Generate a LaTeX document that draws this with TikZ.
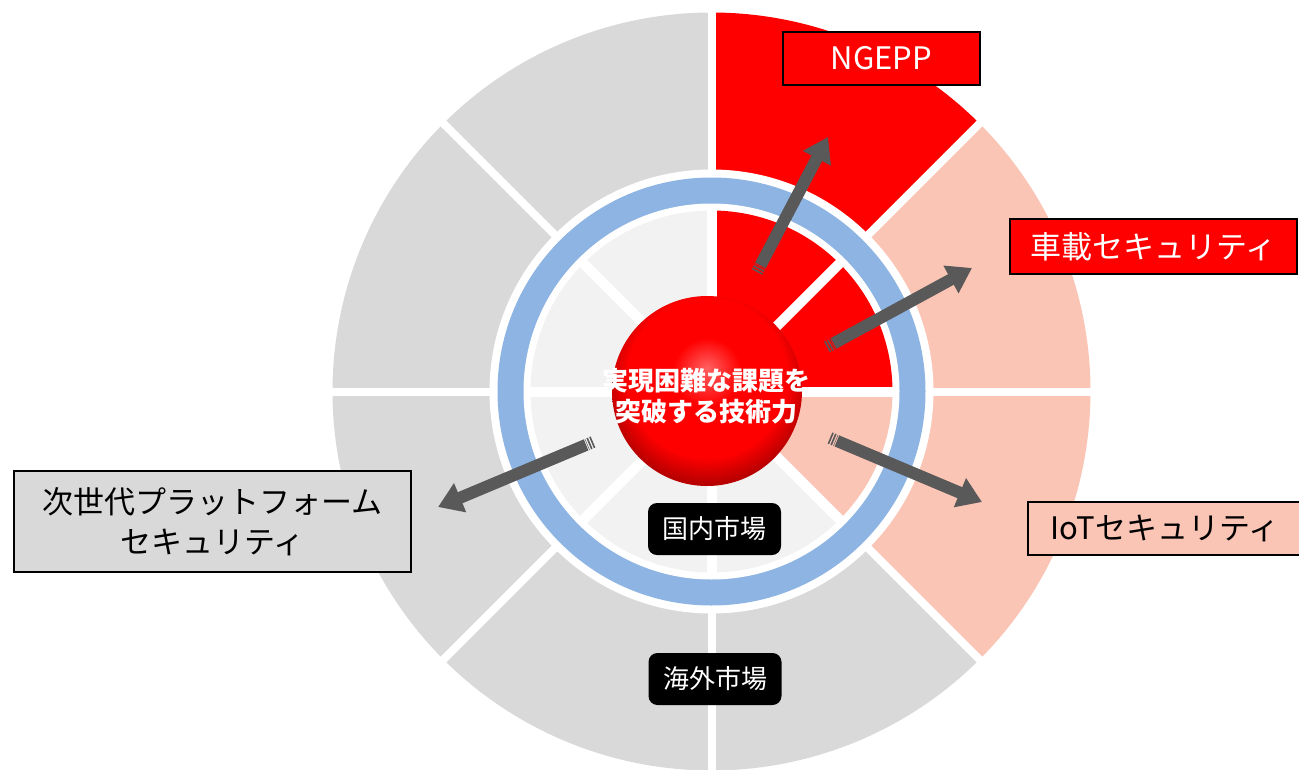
\documentclass[tikz,border=0pt]{standalone}
\usepackage{fontspec}
\setmainfont{Noto Sans CJK JP}
\usetikzlibrary{arrows.meta,calc}
\definecolor{ogray}{HTML}{D9D9D9}
\definecolor{igray}{HTML}{F2F2F2}
\definecolor{lpink}{RGB}{251,197,182}
\definecolor{ringblue}{RGB}{142,180,227}
\definecolor{agray}{HTML}{595959}
\colorlet{ballhi}{red!62!white}
\colorlet{ballmid}{red}
\colorlet{balledge}{red!72!black}
\pgfdeclareradialshading{ballsh}{\pgfpoint{0bp}{6bp}}{color(0bp)=(ballhi); color(9bp)=(ballmid); color(21bp)=(ballmid); color(27bp)=(balledge); color(50bp)=(balledge)}
\begin{document}
\begin{tikzpicture}[x=1pt,y=1pt,
  lab/.style={draw=black, line width=2pt, inner sep=0pt, font=\fontsize{31}{40}\selectfont, align=center},
  pill/.style={fill=black, rounded corners=9pt, text=white, inner sep=0pt, minimum width=133pt, minimum height=52pt, font=\fontsize{26}{30}\selectfont},
  arr/.style={draw=agray, line width=12pt, shorten <=7.5pt, -{Triangle[length=24pt,width=30pt]}},
  stripe/.style={draw=agray, line width=12pt, dash pattern=on 1.6pt off 1.4pt}
]
\useasboundingbox (0,0) rectangle (1299,-769);
\fill[white] (0,0) rectangle (1299,-769);
\coordinate (C) at (711.5,-391.5);
% outer ring sectors
\foreach \a/\c in {0/lpink,45/red,90/ogray,135/ogray,180/ogray,225/ogray,270/ogray,315/lpink}
  \fill[\c] (C) -- ++(\a:379) arc[start angle=\a, end angle=\a+45, radius=379] -- cycle;
\foreach \a in {0,45,...,315}
  \draw[white, line width=8pt] (C) -- ++(\a:390);
% rings
\fill[white] (C) circle[radius=222];
\fill[ringblue] (C) circle[radius=214];
\fill[white] (C) circle[radius=188];
% inner sectors
\foreach \a/\c in {0/red,45/red,90/igray,135/igray,180/igray,225/igray,270/igray,315/lpink}
  \fill[\c] (C) -- ++(\a:181) arc[start angle=\a, end angle=\a+45, radius=181] -- cycle;
\foreach \a in {0,45,...,315}
  \draw[white, line width=10pt] (C) -- ++(\a:183);
% central ball
\node[circle, minimum size=190pt, inner sep=0pt, shade, shading=ballsh] (core) at (707,-391) {};
\node[text=white, font=\bfseries\fontsize{26}{31}\selectfont, align=center, inner sep=0pt] (coretext) at (706,-396) {実現困難な課題を\\突破する技術力};
% markets
\node[pill] (dom) at (714.5,-529) {国内市場};
\node[pill] (ovs) at (715,-679) {海外市場};
% labels
\node[lab, fill=red, text=white, minimum width=197pt, minimum height=53pt] (ngepp) at (881.5,-58.5) {NGEPP};
\node[lab, fill=red, text=white, minimum width=287pt, minimum height=55pt] (car) at (1153.5,-246.5) {車載セキュリティ};
\node[lab, fill=lpink, text=black, minimum width=274pt, minimum height=53pt] (iot) at (1165,-528.5) {IoTセキュリティ};
\node[lab, fill=ogray, text=black, minimum width=397pt, minimum height=101pt] (next) at (212.5,-521.5) {次世代プラットフォーム\\セキュリティ};
% arrows
\coordinate (t1) at (757,-272);  \coordinate (h1) at (828,-137);
\coordinate (t2) at (827,-347);  \coordinate (h2) at (972,-268);
\coordinate (t3) at (830,-438);  \coordinate (h3) at (982,-502);
\coordinate (t4) at (593,-442);  \coordinate (h4) at (438,-507);
\foreach \i in {1,2,3,4}{
  \draw[stripe] (t\i) -- ($(t\i)!6.5pt!(h\i)$);
  \draw[arr] (t\i) -- (h\i);
}
\end{tikzpicture}
\end{document}
